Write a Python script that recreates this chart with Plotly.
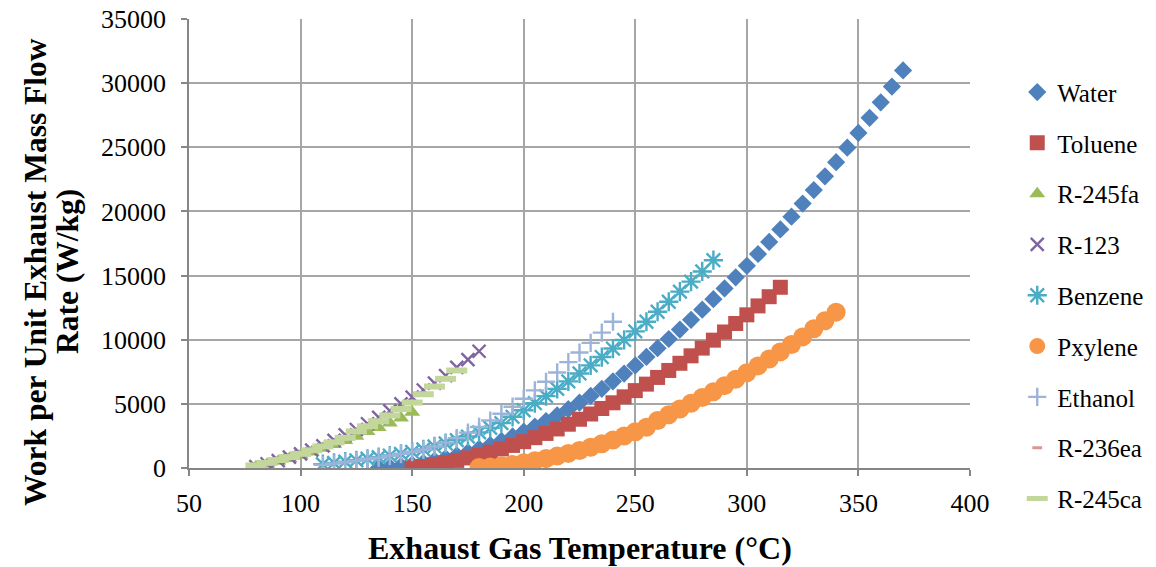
import plotly.graph_objects as go

# ---------------- data ----------------
water_T = [135, 140, 145, 150, 155, 160, 165, 170, 175, 180, 185, 190, 195, 200, 205, 210,
           215, 220, 225, 230, 235, 240, 245, 250, 255, 260, 265, 270, 275, 280, 285, 290,
           295, 300, 305, 310, 315, 320, 325, 330, 335, 340, 345, 350, 355, 360, 365, 370]
water_W = [0, 62, 150, 264, 404, 570, 762, 979, 1223, 1493, 1789, 2110, 2458, 2832, 3232, 3657,
           4109, 4586, 5090, 5619, 6175, 6756, 7364, 7997, 8657, 9342, 10054, 10791, 11554, 12343,
           13159, 14000, 14867, 15760, 16680, 17625, 18596, 19593, 20616, 21665, 22740, 23841,
           24968, 26121, 27300, 28505, 29735, 30992]

toluene_T = [150, 155, 160, 165, 170, 175, 180, 185, 190, 195, 200, 205, 210, 215, 220, 225, 230,
             235, 240, 245, 250, 255, 260, 265, 270, 275, 280, 285, 290, 295, 300, 305, 310, 315]
toluene_W = [30, 119, 257, 414, 590, 786, 1001, 1235, 1488, 1761, 2053, 2365, 2695, 3045, 3414,
             3802, 4210, 4637, 5083, 5548, 6033, 6537, 7060, 7603, 8164, 8745, 9346, 9965, 10604,
             11262, 11939, 12636, 13352, 14087]

r245fa_T = [80, 85, 90, 95, 100, 105, 110, 115, 120, 125, 130, 135, 140, 145, 150]
r245fa_W = [100, 300, 520, 750, 990, 1250, 1530, 1830, 2150, 2480, 2840, 3150, 3500, 3900, 4350]

r123_T = [80, 85, 90, 95, 100, 105, 110, 115, 120, 125, 130, 135, 140, 145, 150, 155, 160, 165,
          170, 175, 180]
r123_W = [100, 330, 580, 840, 1100, 1400, 1730, 2150, 2580, 3000, 3450, 3950, 4450, 5000, 5520,
          6080, 6620, 7200, 7850, 8450, 9100]

benzene_T = [110, 115, 120, 125, 130, 135, 140, 145, 150, 155, 160, 165, 170, 175, 180, 185, 190,
             195, 200, 205, 210, 215, 220, 225, 230, 235, 240, 245, 250, 255, 260, 265, 270, 275,
             280, 285]
benzene_W = [300, 400, 500, 600, 720, 840, 970, 1100, 1250, 1450, 1680, 1920, 2170, 2450, 2780,
             3130, 3500, 3990, 4500, 5050, 5600, 6170, 6750, 7370, 8000, 8650, 9310, 9980, 10650,
             11400, 12180, 12960, 13750, 14530, 15320, 16200]

pxylene_T = [180, 185, 190, 195, 200, 205, 210, 215, 220, 225, 230, 235, 240, 245, 250, 255, 260,
             265, 270, 275, 280, 285, 290, 295, 300, 305, 310, 315, 320, 325, 330, 335, 340]
pxylene_W = [40, 73, 166, 279, 411, 563, 735, 927, 1139, 1370, 1621, 1892, 2182, 2493, 2823, 3173,
             3700, 4150, 4600, 5050, 5500, 5950, 6420, 6920, 7430, 7960, 8500, 9050, 9620, 10220,
             10850, 11480, 12150]

ethanol_T = [110, 115, 120, 125, 130, 135, 140, 145, 150, 155, 160, 165, 170, 175, 180, 185, 190,
             195, 200, 205, 210, 215, 220, 225, 230, 235, 240]
ethanol_W = [250, 350, 450, 560, 680, 810, 950, 1100, 1260, 1440, 1680, 1980, 2330, 2760, 3200,
             3700, 4230, 4780, 5400, 6050, 6720, 7450, 8250, 9000, 9750, 10550, 11400]

r236ea_T = [80, 85, 90, 95, 100, 105, 110, 115, 120, 125, 130, 135, 140, 145, 150, 155, 160]
r236ea_W = [180, 380, 600, 830, 1080, 1360, 1660, 1980, 2330, 2830, 3230, 3630, 4080, 4580, 5080,
            5730, 6330]

r245ca_T = [80, 85, 90, 95, 100, 105, 110, 115, 120, 125, 130, 135, 140, 145, 150, 155, 160, 165,
            170]
r245ca_W = [200, 400, 620, 850, 1100, 1380, 1680, 2000, 2350, 2850, 3250, 3650, 4100, 4600, 5100,
            5750, 6350, 6950, 7600]

x_ticks = [50, 100, 150, 200, 250, 300, 350, 400]
y_ticks = [0, 5000, 10000, 15000, 20000, 25000, 30000, 35000]

x_title = "Exhaust Gas Temperature (°C)"
y_title_1 = "Work per Unit Exhaust Mass Flow"
y_title_2 = "Rate (W/kg)"

# ---------------- styles ----------------
FONT = "Liberation Serif"

# (name, x, y, marker, legend id) -- legend split in two stacked boxes
series = [
    ("Water", water_T, water_W, dict(symbol="diamond", size=14, color="#4F81BD"), "legend"),
    ("Toluene", toluene_T, toluene_W, dict(symbol="square", size=15, color="#C0504D"), "legend"),
    ("R-245fa", r245fa_T, r245fa_W, dict(symbol="triangle-up", size=14, color="#9BBB59"), "legend"),
    ("R-123", r123_T, r123_W, dict(symbol="x-thin-open", size=13, color="#8064A2",
                                   line=dict(width=2.4, color="#8064A2")), "legend"),
    ("Benzene", benzene_T, benzene_W, dict(symbol="asterisk-open", size=16, color="#4BACC6",
                                           line=dict(width=2.4, color="#4BACC6")), "legend"),
    ("Pxylene", pxylene_T, pxylene_W, dict(symbol="circle", size=19, color="#F79646"), "legend2"),
    ("Ethanol", ethanol_T, ethanol_W, dict(symbol="cross-thin-open", size=13, color="#9DB4DA",
                                           line=dict(width=2.4, color="#9DB4DA")), "legend2"),
    ("R-236ea", r236ea_T, r236ea_W, dict(symbol="line-ew-open", size=7, color="#DA9694",
                                         line=dict(width=3, color="#DA9694")), "legend2"),
    ("R-245ca", r245ca_T, r245ca_W, dict(symbol="line-ew-open", size=15, color="#C3D69B",
                                         line=dict(width=6, color="#C3D69B")), "legend2"),
]

fig = go.Figure()
for name, xs, ys, mk, lg in series:
    m = dict(mk)
    if "line" not in m:
        m["line"] = dict(width=0)
    fig.add_trace(go.Scatter(x=xs, y=ys, mode="markers", name=name, marker=m,
                             legendgroup=name, legend=lg))

axis_common = dict(
    showgrid=True, gridcolor="#A6A6A6", gridwidth=1.5,
    showline=True, linecolor="#868686", linewidth=1.5,
    ticks="outside", ticklen=6, tickcolor="#868686", tickwidth=1.5,
    zeroline=False, tickfont=dict(family=FONT, size=26, color="black"),
    tickformat="d",
)

legend_common = dict(xanchor="left", yanchor="top",
                     font=dict(family=FONT, size=25, color="black"),
                     tracegroupgap=15.3, bgcolor="rgba(0,0,0,0)")

fig.update_layout(
    width=1156, height=567,
    margin=dict(l=189, r=186, t=19, b=99, autoexpand=False),
    paper_bgcolor="white", plot_bgcolor="white",
    xaxis=dict(range=[50, 400], tickvals=x_ticks, ticklabelstandoff=5, **axis_common),
    yaxis=dict(range=[0, 35000], tickvals=y_ticks, ticklabelstandoff=10, **axis_common),
    legend=dict(x=1.0605, y=0.888, **legend_common),
    legend2=dict(x=1.0605, y=0.3223, **legend_common),
    showlegend=True,
    annotations=[
        dict(text="<b>" + x_title + "</b>", xref="paper", yref="paper",
             x=0.5, y=-0.178, xanchor="center", yanchor="middle", showarrow=False,
             font=dict(family=FONT, size=32, color="black")),
        dict(text="<b>" + y_title_1 + "</b>", xref="paper",
             yref="paper", x=(35 - 189) / 781, y=0.4365, xanchor="center", yanchor="middle",
             textangle=-90, showarrow=False,
             font=dict(family=FONT, size=31.5, color="black")),
        dict(text="<b>" + y_title_2 + "</b>", xref="paper",
             yref="paper", x=(67 - 189) / 781, y=0.4365, xanchor="center", yanchor="middle",
             textangle=-90, showarrow=False,
             font=dict(family=FONT, size=31.5, color="black")),
    ],
)

fig.write_html("out.html")
